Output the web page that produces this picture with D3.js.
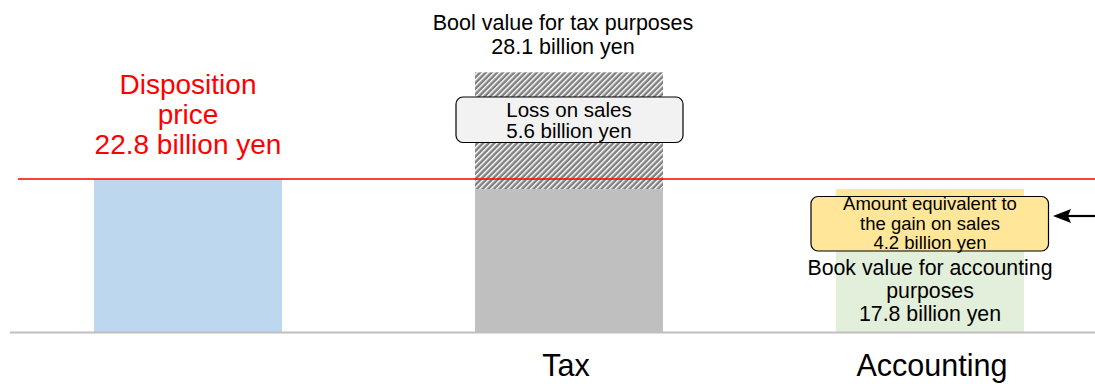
<!DOCTYPE html>
<html>
<head>
<meta charset="utf-8">
<script src="https://cdn.jsdelivr.net/npm/d3@7/dist/d3.min.js"></script>
<style>
  html, body { margin: 0; padding: 0; background: #fff; }
  svg { display: block; font-family: "Liberation Sans", Arial, sans-serif; }
</style>
</head>
<body>
<svg id="chart" width="1095" height="384"></svg>
<script>
// ---- data (drawn heights) ----
const categories = ["Disposition", "Tax", "Accounting"];
const axisLabels = ["", "Tax", "Accounting"];
const lowerValues = [22.8, 21.3, 12.2];   // solid lower segment
const upperValues = [0, 17.4, 9.1];       // upper segment stacked on top
const dispositionPrice = 22.8;            // red reference line

const titleLines = ["Bool value for tax purposes", "28.1 billion yen"];
const dispositionLines = ["Disposition", "price", "22.8 billion yen"];
const lossLines = ["Loss on sales", "5.6 billion yen"];
const gainLines = ["Amount equivalent to", "the gain on sales", "4.2 billion yen"];
const bookLines = ["Book value for accounting", "purposes", "17.8 billion yen"];

// ---- layout ----
const W = 1095, H = 384;
const svg = d3.select("#chart");

const barWidth = 188;
const xc = d3.scaleOrdinal().domain(categories).range([188, 569, 930]);
const x = d => xc(d) - barWidth / 2;

const y = d3.scaleLinear().domain([0, dispositionPrice]).range([332, 179]);

const lowerFill = ["#BDD7EE", "#BFBFBF", "#E2EFDA"];
const upperFill = [null, "url(#hatch)", "#FFE699"];

// hatch pattern
const defs = svg.append("defs");
const pat = defs.append("pattern")
  .attr("id", "hatch")
  .attr("patternUnits", "userSpaceOnUse")
  .attr("width", 4).attr("height", 4)
  .attr("patternTransform", "rotate(45)");
pat.append("rect").attr("width", 4).attr("height", 4).attr("fill", "#7F7F7F");
pat.append("rect").attr("x", 0).attr("width", 1.5).attr("height", 4).attr("fill", "#FFFFFF");

// bars: lower segment
svg.append("g").selectAll("rect")
  .data(categories)
  .join("rect")
  .attr("x", d => x(d))
  .attr("width", barWidth)
  .attr("y", (d, i) => y(lowerValues[i]))
  .attr("height", (d, i) => y(0) - y(lowerValues[i]))
  .attr("fill", (d, i) => lowerFill[i]);

// bars: upper segment
svg.append("g").selectAll("rect")
  .data(categories.filter((d, i) => upperValues[i] > 0))
  .join("rect")
  .attr("x", d => x(d))
  .attr("width", barWidth)
  .attr("y", d => { const i = categories.indexOf(d); return y(lowerValues[i] + upperValues[i]); })
  .attr("height", d => { const i = categories.indexOf(d); return y(lowerValues[i]) - y(lowerValues[i] + upperValues[i]); })
  .attr("fill", d => upperFill[categories.indexOf(d)]);

// baseline
svg.append("line")
  .attr("x1", 10).attr("x2", W)
  .attr("y1", y(0) + 0.5).attr("y2", y(0) + 0.5)
  .attr("stroke", "#BFBFBF").attr("stroke-width", 2);

// red disposition line
svg.append("line")
  .attr("x1", 18).attr("x2", W)
  .attr("y1", y(dispositionPrice)).attr("y2", y(dispositionPrice))
  .attr("stroke", "#FF0000").attr("stroke-width", 1.3);

// category labels
svg.append("g").selectAll("text")
  .data(categories)
  .join("text")
  .attr("x", d => xc(d) + (d === "Tax" ? -3 : 2))
  .attr("y", 376)
  .attr("text-anchor", "middle")
  .attr("font-size", 30.5)
  .attr("fill", "#000")
  .text((d, i) => axisLabels[i]);

function textBlock(lines, cx, y0, lh, size, color) {
  svg.append("g").selectAll("text")
    .data(lines)
    .join("text")
    .attr("x", cx)
    .attr("y", (d, i) => y0 + i * lh)
    .attr("text-anchor", "middle")
    .attr("font-size", size)
    .attr("fill", color)
    .text(d => d);
}

const cD = xc("Disposition");
const cT = xc("Tax");
const cA = xc("Accounting");

// disposition label
textBlock(dispositionLines, cD, 94, 29.8, 28, "#FF0000");

// title above tax bar
textBlock(titleLines, cT - 6, 29.5, 24, 21.5, "#000");

// loss callout box
svg.append("rect")
  .attr("x", cT - 113).attr("y", 97)
  .attr("width", 227).attr("height", 45.5)
  .attr("rx", 7).attr("ry", 7)
  .attr("fill", "#F2F2F2").attr("stroke", "#000").attr("stroke-width", 1.2);
textBlock(lossLines, cT, 116.5, 21.5, 20.5, "#000");

// gain callout box
svg.append("rect")
  .attr("x", cA - 119).attr("y", 196.5)
  .attr("width", 237.5).attr("height", 54.5)
  .attr("rx", 7).attr("ry", 7)
  .attr("fill", "#FFE699").attr("stroke", "#000").attr("stroke-width", 1.2);
textBlock(gainLines, cA, 210, 19.5, 18.5, "#000");

// arrow pointing at callout
const ay = 216, tipX = cA + 123;
svg.append("line")
  .attr("x1", W).attr("x2", tipX + 14)
  .attr("y1", ay).attr("y2", ay)
  .attr("stroke", "#000").attr("stroke-width", 2.2);
svg.append("path")
  .attr("d", d3.line()([[tipX, ay], [tipX + 18, ay - 7], [tipX + 15, ay], [tipX + 18, ay + 7]]) + "Z")
  .attr("fill", "#000");

// book value text
textBlock(bookLines, cA, 275, 22.8, 21.3, "#000");
</script>
</body>
</html>
